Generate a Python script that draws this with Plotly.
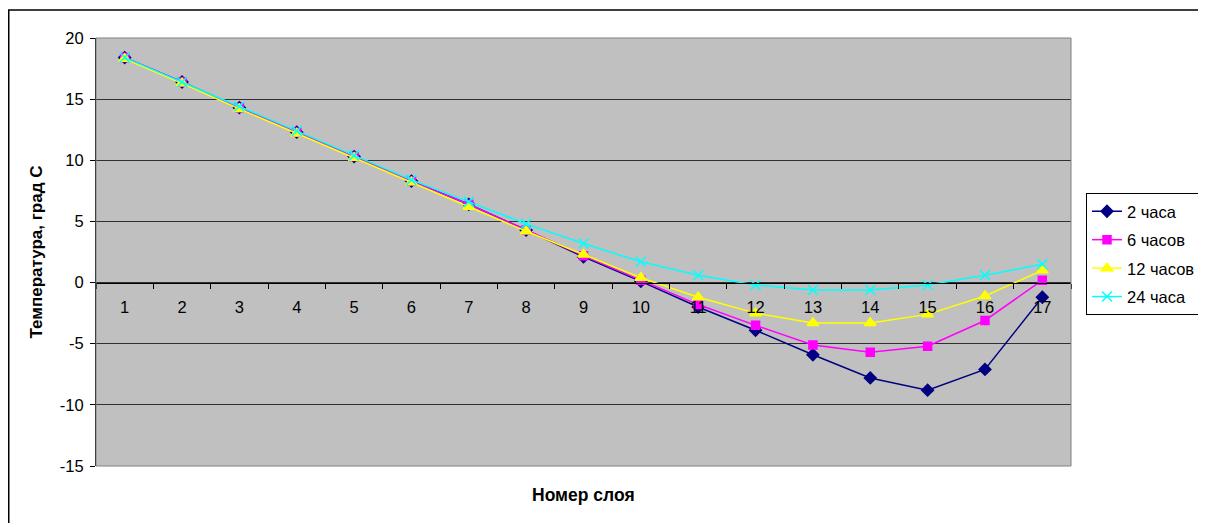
import plotly.graph_objects as go

layers = [str(i) for i in range(1, 18)]
t2 = [18.4, 16.4, 14.3, 12.3, 10.3, 8.3, 6.4, 4.3, 2.1, 0.1, -2.0, -3.9, -5.9, -7.8, -8.8, -7.1, -1.2]
t6 = [18.4, 16.4, 14.3, 12.3, 10.3, 8.3, 6.4, 4.3, 2.2, 0.2, -1.8, -3.5, -5.1, -5.7, -5.2, -3.1, 0.2]
t12 = [18.3, 16.3, 14.2, 12.2, 10.2, 8.2, 6.2, 4.2, 2.3, 0.4, -1.2, -2.5, -3.3, -3.3, -2.6, -1.1, 1.0]
t24 = [18.4, 16.4, 14.4, 12.4, 10.4, 8.4, 6.6, 4.8, 3.2, 1.7, 0.6, -0.2, -0.6, -0.6, -0.2, 0.6, 1.5]

y_ticks = [-15, -10, -5, 0, 5, 10, 15, 20]
y_ticklabels = ["-15", "-10", "-5", "0", "5", "10", "15", "20"]

names = ["2 часа", "6 часов", "12 часов", "24 часа"]
series = [t2, t6, t12, t24]
colors = ["#000080", "#FF00FF", "#FFFF00", "#00FFFF"]
symbols = ["diamond", "square", "triangle-up", "x-thin"]
sizes = [9, 8, 10, 10]

W, H = 1206, 523
L, T = 88, 30
pw, ph = 975, 428
R, B = W - L - pw, H - T - ph

fig = go.Figure()
for name, ys, c, s, sz in zip(names, series, colors, symbols, sizes):
    fig.add_trace(go.Scatter(
        x=layers, y=ys, name=name, mode="lines+markers", legendgroup=name,
        line=dict(color=c, width=1.5),
        marker=dict(symbol=s, size=sz, color=c, line=dict(color=c, width=1.5)),
    ))

ymin, ymax = -15, 20
fig.update_layout(
    width=W, height=H,
    margin=dict(l=L, r=R, t=T, b=B),
    paper_bgcolor="white",
    plot_bgcolor="#C0C0C0",
    font=dict(family="Liberation Sans, Arial, sans-serif", size=16, color="black"),
    showlegend=True,
    legend=dict(
        x=(1086 - 96) / pw, xanchor="left",
        y=(466 - 193) / ph, yanchor="top",
        bgcolor="white", bordercolor="black", borderwidth=1,
        font=dict(size=16.5), tracegroupgap=4, traceorder="grouped", itemwidth=30,
    ),
    xaxis=dict(
        type="category", range=[-0.5, 16.5],
        anchor="free", position=(0 - ymin) / (ymax - ymin),
        showline=True, linecolor="black", linewidth=1,
        ticks="outside", ticklen=5, tickcolor="black", tickson="boundaries",
        ticklabelstandoff=10,
        showgrid=False, zeroline=False,
        tickfont=dict(size=16.5),
    ),
    yaxis=dict(
        range=[ymin, ymax], tickvals=y_ticks, ticktext=y_ticklabels,
        showline=True, linecolor="black", linewidth=1,
        ticks="outside", ticklen=5, tickcolor="black", ticklabelstandoff=3,
        showgrid=True, gridcolor="#303030", gridwidth=1,
        zeroline=False, tickfont=dict(size=16.5),
        title=dict(text="<b>Температура, град С</b>", font=dict(size=17), standoff=12),
    ),
    annotations=[dict(
        text="<b>Номер слоя</b>", xref="paper", yref="paper",
        x=0.5, y=-(487 - (T + ph)) / ph, xanchor="center", yanchor="middle",
        showarrow=False, font=dict(size=17.5),
    )],
    shapes=[
        dict(type="rect", xref="paper", yref="paper", x0=0, x1=1, y0=0, y1=1,
             line=dict(color="#808080", width=1), layer="above"),
        dict(type="rect", xref="paper", yref="paper",
             x0=(0.75 - L) / pw, x1=(W + 5 - L) / pw,
             y0=-(H + 5 - (T + ph)) / ph, y1=1 + (T - 2) / ph,
             line=dict(color="black", width=1.5)),
    ],
)

fig.write_html("out.html")
